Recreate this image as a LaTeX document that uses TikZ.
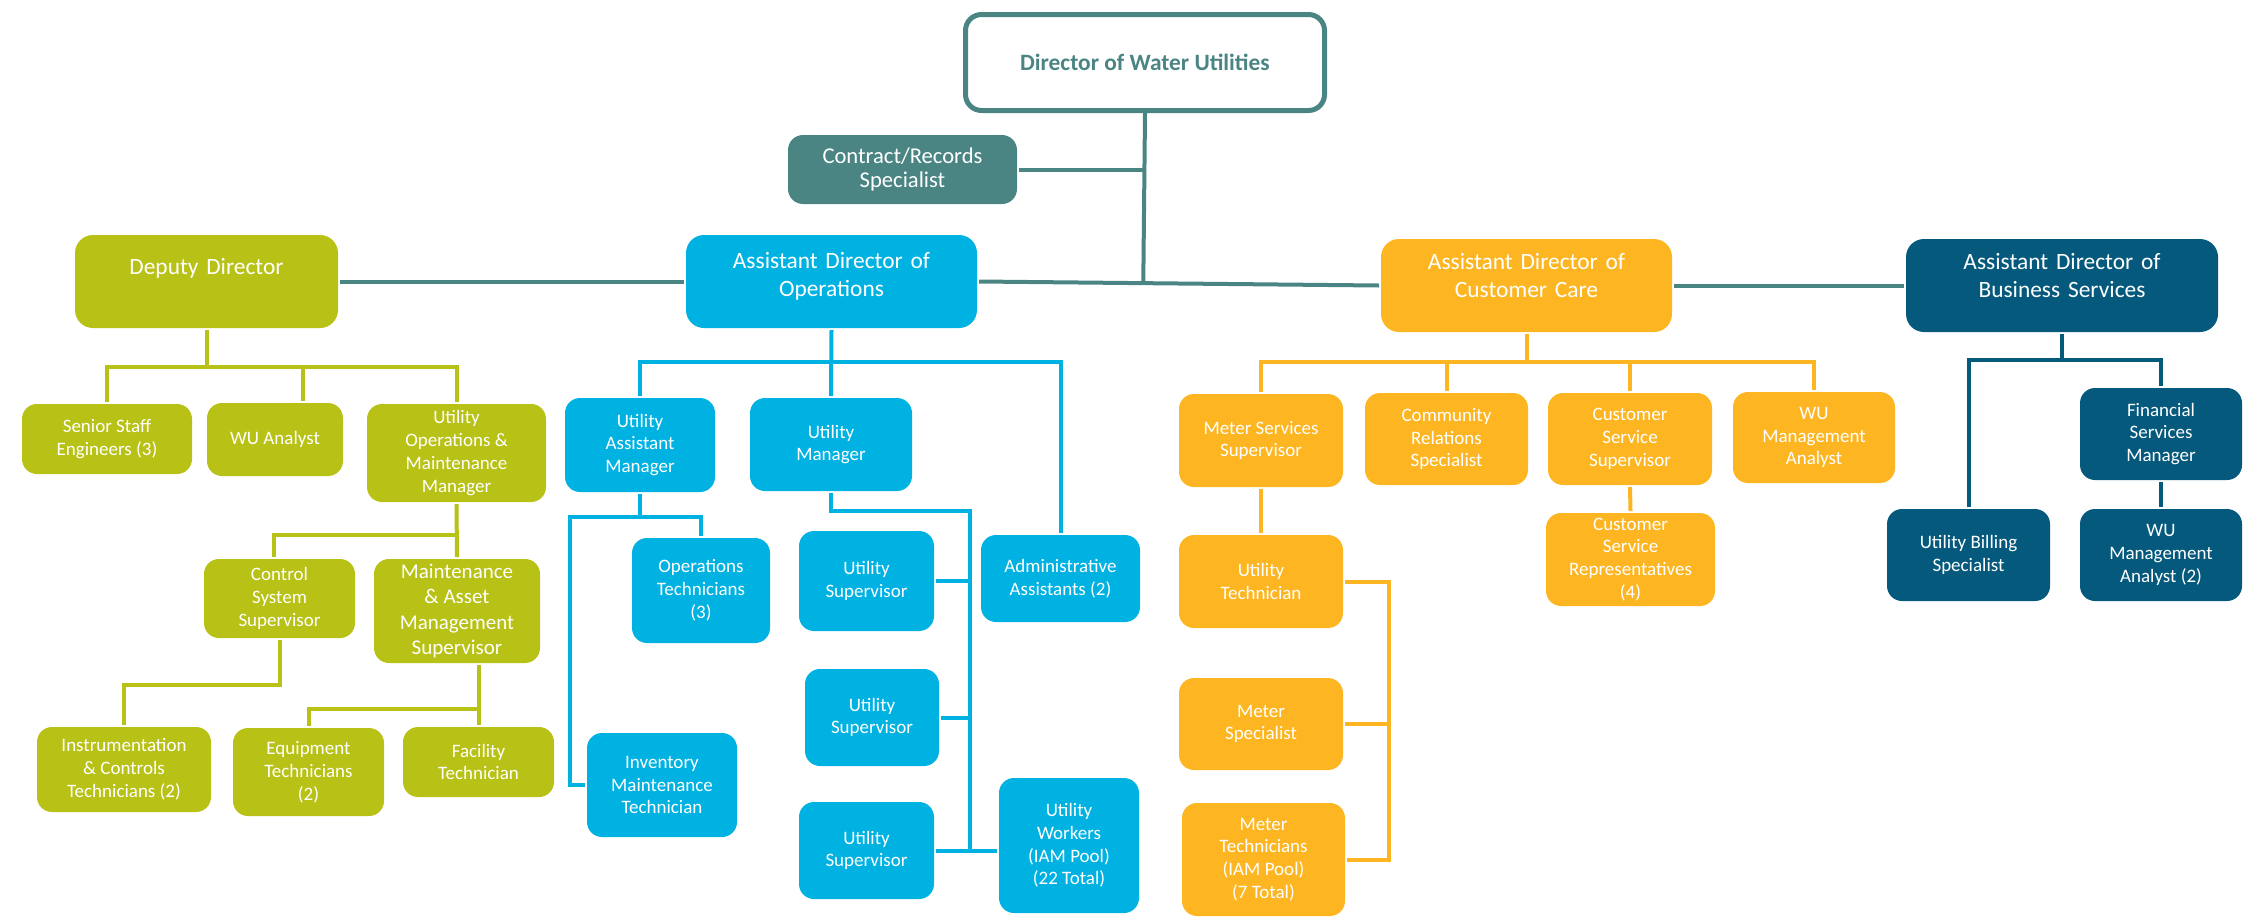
\documentclass[tikz,border=0pt]{standalone}
\usepackage{fontspec}
\setmainfont{Carlito}
\usetikzlibrary{calc}

\definecolor{wuteal}{RGB}{74,133,132}
\definecolor{wuolive}{RGB}{184,193,21}
\definecolor{wucyan}{RGB}{0,178,226}
\definecolor{wuamber}{RGB}{253,182,34}
\definecolor{wunavy}{RGB}{5,89,124}

\newcommand\boxfont{\fontsize{9.5pt}{11.4pt}\selectfont}
\newcommand\headfont{\fontsize{11.7pt}{14pt}\selectfont}

\begin{document}
\begin{tikzpicture}[x=0.5pt,y=-0.5pt,line width=2pt,
box/.style={rounded corners=7.5pt, inner sep=0pt, align=center, text=white, font=\boxfont},
sz/.style 2 args={minimum width=#1*0.5pt, minimum height=#2*0.5pt},
head/.style={box, rounded corners=9pt, font=\headfont, text width=#1, text height=15pt, text depth=31.5pt},
ol/.style={box, fill=wuolive}, cy/.style={box, fill=wucyan},
am/.style={box, fill=wuamber}, nv/.style={box, fill=wunavy}]
\useasboundingbox (0,0) rectangle (2243,917);

% top
\node[box, sz={359}{96}, fill=white, draw=wuteal, line width=2.5pt, text=wuteal,
  font=\headfont\bfseries, rounded corners=8pt] (dir) at (1145,62.5) {Director of Water Utilities};
\node[box, sz={229}{69}, fill=wuteal, font=\fontsize{11.3pt}{12pt}\selectfont] (rec) at (902.5,169.5) {Contract/Records\\Specialist};

% assistant directors
\node[ol, head=131.5pt, text height=19.5pt, text depth=27pt] (dd) at (206.5,281.5) {Deputy Director};
\node[cy, head=145.5pt, text height=16.5pt, text depth=30pt] (ops) at (831.5,281.5) {Assistant Director of\\Operations};
\node[am, head=145.5pt] (cc) at (1526.5,285.5) {Assistant Director of\\Customer Care};
\node[nv, head=156pt] (bs) at (2062,285.5) {Assistant Director of\\Business Services};

% deputy director
\node[ol, sz={170}{70}] (sse) at (107,439) {Senior Staff\\Engineers (3)};
\node[ol, sz={136}{73}] (wua) at (275,439.5) {WU Analyst};
\node[ol, sz={179}{98}] (uomm) at (456.5,453) {Utility\\Operations \&\\Maintenance\\Manager};
\node[ol, sz={151}{79}] (css) at (279.5,598.5) {Control\\System\\Supervisor};
\node[ol, sz={166}{104}, font=\fontsize{10.5pt}{12.8pt}\selectfont] (mams) at (457,611) {Maintenance\\\& Asset\\Management\\Supervisor};
\node[ol, sz={174}{85}] (ict) at (124,769.5) {Instrumentation\\\& Controls\\Technicians (2)};
\node[ol, sz={151}{88}] (eqt) at (308.5,772) {Equipment\\Technicians\\(2)};
\node[ol, sz={151}{70}] (fac) at (478.5,762) {Facility\\Technician};

% operations
\node[cy, sz={150}{94}] (uam) at (640,445) {Utility\\Assistant\\Manager};
\node[cy, sz={162}{93}] (um) at (831,444.5) {Utility\\Manager};
\node[cy, sz={159}{87}] (aa) at (1060.5,578.5) {Administrative\\Assistants (2)};
\node[cy, sz={138}{105}] (opt) at (701,590.5) {Operations\\Technicians\\(3)};
\node[cy, sz={150}{104}] (imt) at (662,785) {Inventory\\Maintenance\\Technician};
\node[cy, sz={135}{100}] (us1) at (866.5,581) {Utility\\Supervisor};
\node[cy, sz={134}{97}] (us2) at (872,717.5) {Utility\\Supervisor};
\node[cy, sz={135}{97}] (us3) at (866.5,850.5) {Utility\\Supervisor};
\node[cy, sz={140}{135}] (uw) at (1069,845.5) {Utility\\Workers\\(IAM Pool)\\(22 Total)};

% customer care
\node[am, sz={164}{93}] (mss) at (1261,440.5) {Meter Services\\Supervisor};
\node[am, sz={163}{92}] (crs) at (1446.5,439) {Community\\Relations\\Specialist};
\node[am, sz={164}{92}] (csv) at (1630,439) {Customer\\Service\\Supervisor};
\node[am, sz={162}{91}] (wuma) at (1814,437.5) {WU\\Management\\Analyst};
\node[am, sz={164}{93}] (ut) at (1261,581.5) {Utility\\Technician};
\node[am, sz={164}{92}] (ms) at (1261,724) {Meter\\Specialist};
\node[am, sz={163}{113}] (mt) at (1263.5,859.5) {Meter\\Technicians\\(IAM Pool)\\(7 Total)};
\node[am, sz={169}{93}] (csr) at (1630.5,559.5) {Customer\\Service\\Representatives\\(4)};

% business services
\node[nv, sz={162}{92}] (fsm) at (2161,434) {Financial\\Services\\Manager};
\node[nv, sz={163}{92}] (ubs) at (1968.5,555) {Utility Billing\\Specialist};
\node[nv, sz={162}{92}] (wum2) at (2161,555) {WU\\Management\\Analyst (2)};

% lines
\draw[wuteal] (dd.east) -- (ops.west);
\draw[wuteal] (ops.east) -- (cc.west);
\draw[wuteal] (cc.east) -- (bs.west);
\draw[wuteal] (dir.south) -- ($(ops.east)!(dir.south)!(cc.west)$);
\draw[wuteal] (rec.east) -- (rec.east -| dir.south);

\coordinate (ddbus) at (206.5,367);
\draw[wuolive] (dd.south) -- (ddbus);
\draw[wuolive] (sse.north) |- (ddbus) -| (uomm.north);
\draw[wuolive] ($(wua.north)+(28,0)$) -- ++(0,-36);
\draw[wuolive] (uomm.south) -- (mams.north);
\draw[wuolive] (uomm.south) ++(0,31) -| ($(css.north)+(-6,0)$);
\draw[wuolive] (css.south) -- ++(0,45) -| (ict.north);
\draw[wuolive] (fac.north) -- (fac.north |- mams.south);
\draw[wuolive] (fac.north) ++(0,-16) -| (eqt.north);

\coordinate (opsbus) at (831.5,362);
\draw[wucyan] (ops.south) -- (um.north);
\draw[wucyan] (uam.north) |- (opsbus) -| (aa.north);
\draw[wucyan] (uam.south) -- ++(0,23) coordinate (uambus) -| (opt.north);
\draw[wucyan] (uambus) -| ($(imt.west)+(-15,0)$) -- (imt.west);
\coordinate (umbus) at (970,511);
\draw[wucyan] (um.south) |- (umbus) -- (umbus |- us3.east);
\draw[wucyan] (us1.east) -- (us1.east -| umbus);
\draw[wucyan] (us2.east) -- (us2.east -| umbus);
\draw[wucyan] (us3.east) -- (uw.west |- us3.east);

\coordinate (ccbus) at (1526.5,362);
\draw[wuamber] (cc.south) -- (ccbus);
\draw[wuamber] (mss.north) |- (ccbus) -| (wuma.north);
\draw[wuamber] (crs.north) -- (crs.north |- ccbus);
\draw[wuamber] (csv.north) -- (csv.north |- ccbus);
\draw[wuamber] (mss.south) -- (ut.north);
\draw[wuamber] (csv.south) -- (csr.north);
\draw[wuamber] (ut.east) -- ++(44,0) |- (mt.east);
\draw[wuamber] (ms.east) -- ++(44,0);

\coordinate (bsbus) at (2062,360);
\draw[wunavy] (bs.south) -- (bsbus);
\draw[wunavy] (ubs.north) |- (bsbus) -| (fsm.north);
\draw[wunavy] (fsm.south) -- (wum2.north);
\end{tikzpicture}
\end{document}
